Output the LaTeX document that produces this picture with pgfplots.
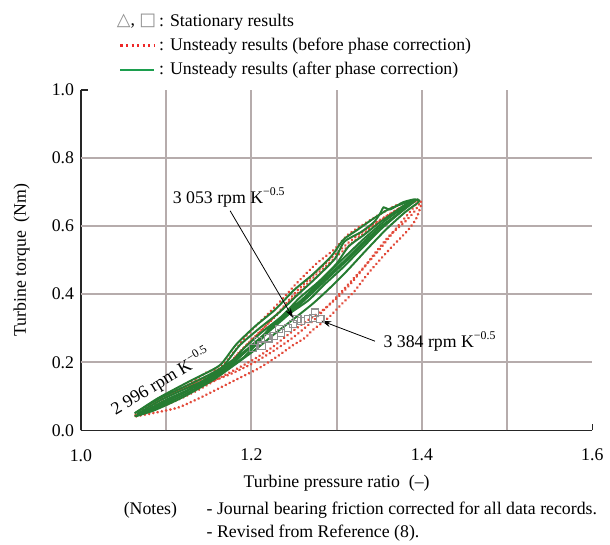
\documentclass[border=0pt]{standalone}
\usepackage{pgfplots}
\pgfplotsset{compat=1.18}
\usepackage{fontspec}
\setmainfont{Liberation Serif}
\newfontfamily\symfont{DejaVu Sans}
\usetikzlibrary{arrows.meta}

\definecolor{reddot}{RGB}{226,74,58}
\definecolor{legred}{RGB}{238,40,40}
\definecolor{grn}{RGB}{38,124,50}
\definecolor{leggrn}{RGB}{28,158,78}
\definecolor{gridc}{RGB}{182,172,172}
\definecolor{sq}{RGB}{145,145,145}

\pgfplotsset{
  redloop/.style={reddot, line width=1.4pt, dash pattern=on 0.1pt off 2.1pt, line cap=round, smooth, tension=0.4, forget plot},
  grnloop/.style={grn, line width=1pt, smooth, tension=0.4, forget plot},
}

\begin{document}
\begin{tikzpicture}[font=\fontsize{9}{11}\selectfont]
% page frame: 610 x 549 px at 0.5pt per px, axis box from (82,91) to (600,436)
\path (-41pt,-56.5pt) rectangle (264pt,218pt);
\begin{axis}[
    scale only axis, width=259pt, height=172.5pt,
    xmin=1.0, xmax=1.6, ymin=0, ymax=1.0,
    clip=false,
    axis x line*=bottom, axis y line*=left,
    axis line style={-, line width=0.8pt, black!85},
    xtick={1.0,1.2,1.4,1.6},
    ytick={0,0.2,0.4,0.6,0.8,1.0},
    xticklabel={\pgfmathprintnumber[fixed,fixed zerofill,precision=1]{\tick}},
    yticklabel={\pgfmathprintnumber[fixed,fixed zerofill,precision=1]{\tick}},
    /pgf/number format/assume math mode=true,
    xticklabel style={yshift=-6pt},
    tick align=inside, major tick length=3.5pt,
    tick style={line width=0.8pt, black!85},
    extra x ticks={1.1,1.2,1.3,1.4,1.5}, extra x tick labels={},
    extra x tick style={grid=major, tick style={draw=none}},
    extra y ticks={0.2,0.4,0.6,0.8}, extra y tick labels={},
    extra y tick style={grid=major, tick style={draw=none}},
    major grid style={gridc, line width=1pt},
    xlabel={Turbine pressure ratio\ \ (–)},
    ylabel={Turbine torque\ \ (Nm)},
    every axis x label/.style={at={(axis description cs:0.5,-0.154)}, anchor=center},
    every axis y label/.style={at={(axis description cs:-0.116,0.5)}, rotate=90, anchor=center},
    legend style={at={(axis description cs:0.058,1.245)}, anchor=north west, draw=none, fill=none,
        font=\fontsize{9}{11}\selectfont, row sep=1.5pt, nodes={inner sep=1.5pt}},
    legend cell align=left,
    legend image code/.code={\draw[#1] (0pt,0pt) -- (17pt,0pt);},
]

\addlegendimage{legend image code/.code={
    \node[anchor=west, inner sep=0pt] at (-2pt,0pt) {{\symfont\color{sq}△}, {\symfont\color{sq}□}};}}
\addlegendentry{: Stationary results}
\addlegendimage{legred, line width=1.2pt, dash pattern=on 1.2pt off 1.6pt}
\addlegendentry{: Unsteady results (before phase correction)}
\addlegendimage{leggrn, line width=1.2pt}
\addlegendentry{: Unsteady results (after phase correction)}

% unsteady, before phase correction (red dotted loops)
\addplot[redloop] coordinates {
 (1.064,0.046) (1.094,0.096) (1.125,0.133) (1.148,0.171) (1.163,0.183) (1.179,0.229)
 (1.194,0.278) (1.209,0.316) (1.232,0.374) (1.252,0.429) (1.275,0.487) (1.298,0.533)
 (1.313,0.574) (1.336,0.612) (1.355,0.641) (1.370,0.661) (1.390,0.675) (1.398,0.675)
 (1.399,0.661) (1.393,0.620) (1.382,0.583) (1.367,0.545) (1.352,0.504) (1.336,0.458)
 (1.321,0.409) (1.306,0.371) (1.290,0.330) (1.271,0.293) (1.263,0.272) (1.248,0.249)
 (1.232,0.220) (1.209,0.183) (1.186,0.154) (1.163,0.125) (1.140,0.096) (1.114,0.067)
 (1.087,0.052) (1.064,0.041)
};
\addplot[redloop] coordinates {
 (1.064,0.043) (1.094,0.092) (1.125,0.128) (1.150,0.160) (1.168,0.180) (1.183,0.222)
 (1.200,0.265) (1.215,0.302) (1.235,0.356) (1.255,0.414) (1.278,0.470) (1.300,0.520)
 (1.318,0.560) (1.340,0.600) (1.360,0.632) (1.378,0.658) (1.393,0.673) (1.398,0.672)
 (1.392,0.645) (1.380,0.612) (1.362,0.572) (1.347,0.527) (1.332,0.478) (1.317,0.432)
 (1.301,0.390) (1.283,0.352) (1.263,0.318) (1.244,0.283) (1.225,0.245) (1.205,0.212)
 (1.186,0.185) (1.163,0.155) (1.140,0.122) (1.114,0.090) (1.087,0.062) (1.064,0.043)
};
\addplot[redloop] coordinates {
 (1.066,0.045) (1.097,0.094) (1.130,0.136) (1.156,0.170) (1.172,0.192) (1.190,0.240)
 (1.210,0.290) (1.232,0.345) (1.255,0.405) (1.278,0.462) (1.302,0.515) (1.325,0.565)
 (1.348,0.610) (1.372,0.650) (1.395,0.672)
 (1.372,0.600) (1.350,0.530) (1.325,0.460) (1.300,0.392) (1.275,0.328) (1.250,0.275)
 (1.225,0.232) (1.200,0.195) (1.175,0.165) (1.150,0.140) (1.125,0.115) (1.094,0.082)
 (1.066,0.045)
};

% unsteady, after phase correction (green loops)
\addplot[grnloop] coordinates {
 (1.064,0.052) (1.094,0.096) (1.133,0.142) (1.156,0.171) (1.168,0.191) (1.186,0.249)
 (1.209,0.299) (1.232,0.345) (1.255,0.400) (1.275,0.446) (1.298,0.504) (1.309,0.554)
 (1.329,0.583) (1.344,0.612) (1.352,0.641) (1.355,0.655) (1.363,0.649) (1.378,0.670)
 (1.393,0.678)
 (1.375,0.641) (1.352,0.591) (1.329,0.533) (1.306,0.475) (1.286,0.429) (1.267,0.382)
 (1.244,0.342) (1.229,0.313) (1.217,0.282) (1.191,0.215) (1.171,0.183) (1.148,0.142)
 (1.114,0.096) (1.079,0.055) (1.064,0.041)
};
\addplot[grnloop] coordinates {
 (1.066,0.048) (1.096,0.092) (1.135,0.136) (1.158,0.163) (1.172,0.186) (1.190,0.238)
 (1.212,0.288) (1.236,0.336) (1.256,0.388) (1.279,0.437) (1.300,0.490) (1.314,0.540)
 (1.332,0.574) (1.348,0.606) (1.365,0.636) (1.380,0.662) (1.392,0.675)
 (1.385,0.662) (1.370,0.632) (1.350,0.595) (1.328,0.545) (1.305,0.488) (1.285,0.442)
 (1.265,0.395) (1.244,0.352) (1.222,0.300) (1.200,0.245) (1.178,0.200) (1.150,0.152)
 (1.115,0.103) (1.082,0.062) (1.066,0.048)
};
\addplot[grnloop] coordinates {
 (1.068,0.046) (1.100,0.090) (1.140,0.135) (1.165,0.168) (1.180,0.200) (1.198,0.245)
 (1.220,0.292) (1.245,0.350) (1.268,0.405) (1.290,0.460) (1.312,0.515) (1.333,0.565)
 (1.355,0.612) (1.376,0.650) (1.390,0.670)
 (1.380,0.650) (1.360,0.610) (1.338,0.562) (1.315,0.506) (1.292,0.452) (1.270,0.400)
 (1.248,0.350) (1.225,0.300) (1.202,0.252) (1.180,0.210) (1.155,0.165) (1.125,0.118)
 (1.095,0.078) (1.068,0.046)
};
\addplot[grnloop] coordinates {
 (1.063,0.050) (1.090,0.094) (1.128,0.145) (1.152,0.175) (1.165,0.196) (1.182,0.252)
 (1.204,0.305) (1.228,0.355) (1.250,0.412) (1.272,0.458) (1.294,0.512) (1.308,0.560)
 (1.325,0.590) (1.342,0.620) (1.360,0.648) (1.380,0.668) (1.395,0.677)
 (1.396,0.670) (1.380,0.640) (1.358,0.590) (1.335,0.530) (1.312,0.468) (1.292,0.418)
 (1.272,0.372) (1.250,0.328) (1.228,0.285) (1.205,0.238) (1.180,0.192) (1.155,0.148)
 (1.120,0.098) (1.085,0.058) (1.063,0.042)
};

% stationary results
\addplot[only marks, mark=square, mark size=1.8pt, sq, mark options={line width=0.6pt}, forget plot] coordinates {
 (1.202,0.241) (1.208,0.262) (1.212,0.249) (1.220,0.270) (1.226,0.278) (1.232,0.297)
 (1.235,0.287) (1.243,0.301) (1.249,0.313) (1.254,0.328) (1.258,0.322) (1.266,0.328)
 (1.272,0.330) (1.275,0.346) (1.281,0.328)
};

% annotations
\node at (axis cs:1.174,0.684) {3 053 rpm K\textsuperscript{−0.5}};
\draw[-{Stealth[length=5pt,width=3pt]}, line width=0.4pt] (axis cs:1.175,0.645) -- (axis cs:1.249,0.330);
\node[anchor=west] at (axis cs:1.347,0.262) {3 384 rpm K\textsuperscript{−0.5}};
\draw[-{Stealth[length=5pt,width=3pt]}, line width=0.4pt] (axis cs:1.345,0.262) -- (axis cs:1.282,0.322);
\node[rotate=31] at (axis cs:1.094,0.145) {2 996 rpm K\textsuperscript{−0.5}};

\node[anchor=base west, inner sep=0pt, font=\fontsize{9}{12}\selectfont] at (axis description cs:0.083,-0.246)
  {\begin{tabular}[t]{@{}l@{\hspace{15pt}}l@{}}(Notes) & - Journal bearing friction corrected for all data records.\\
   & - Revised from Reference (8).\end{tabular}};
\end{axis}
\end{tikzpicture}
\end{document}
